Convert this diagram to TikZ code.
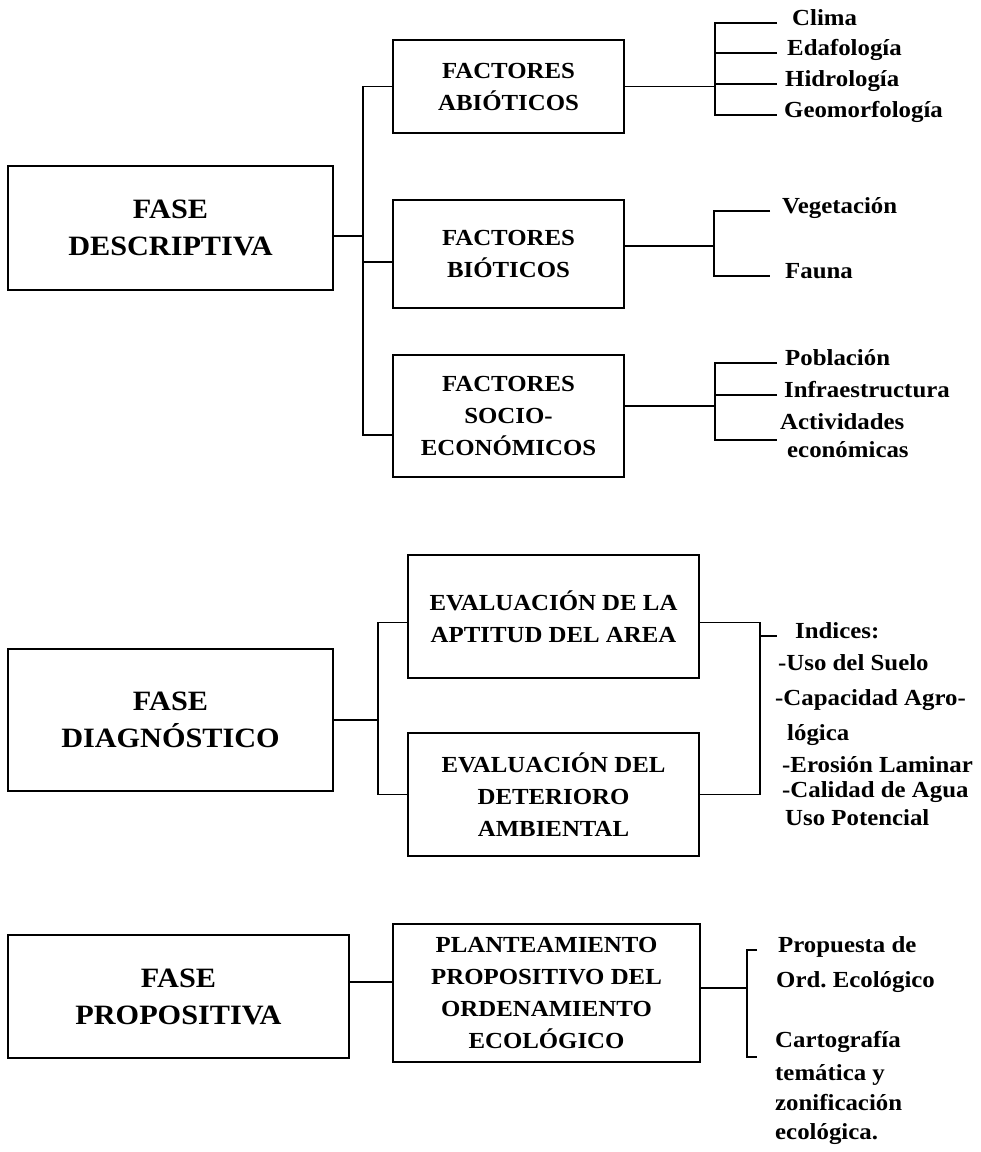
\documentclass[tikz,border=0pt]{standalone}
\usepackage{fontspec}
\setmainfont{Liberation Serif}[FakeStretch=1.08]
\usepackage{tikz}
\frenchspacing

\tikzset{
  fasebox/.style={draw,line width=1.7pt,align=center,minimum width=325pt,minimum height=124pt,font=\bfseries\fontsize{28}{37}\selectfont},
  factbox/.style={draw,line width=1.7pt,align=center,inner sep=0pt,font=\bfseries\fontsize{23}{32}\selectfont},
  item/.style={anchor=west,inner sep=0pt,text height=1.5ex,text depth=.25ex,font=\bfseries\fontsize{23}{30}\selectfont},
  link/.style={line width=1.5pt}
}

\begin{document}
\begin{tikzpicture}[x=1pt,y=-1pt]
    \useasboundingbox (0,0) rectangle (981,1152);
    % phases
    \node[fasebox] (desc) at (170.5,228) {FASE\\DESCRIPTIVA};
    \node[fasebox,minimum height=142pt] (diag) at (170.5,720) {FASE\\DIAGNÓSTICO};
    \node[fasebox,minimum width=341pt,minimum height=123pt] (prop) at (178.5,996.5) {FASE\\PROPOSITIVA};
    % second level boxes
    \node[factbox,minimum width=231pt,minimum height=93pt] (abio) at (508.5,86.5) {FACTORES\\ABIÓTICOS};
    \node[factbox,minimum width=231pt,minimum height=108pt] (bio) at (508.5,254) {FACTORES\\BIÓTICOS};
    \node[factbox,minimum width=231pt,minimum height=122pt] (socio) at (508.5,416) {FACTORES\\SOCIO-\\ECONÓMICOS};
    \node[factbox,minimum width=291pt,minimum height=123pt] (apt) at (553.5,616.5) {EVALUACIÓN DE LA\\APTITUD DEL AREA};
    \node[factbox,minimum width=291pt,minimum height=123pt] (det) at (553.5,794.5) {EVALUACIÓN DEL\\DETERIORO\\AMBIENTAL};
    \node[factbox,minimum width=307pt,minimum height=138pt] (plan) at (546.5,993) {PLANTEAMIENTO\\PROPOSITIVO DEL\\ORDENAMIENTO\\ECOLÓGICO};
    % lists
    \foreach \n/\x/\y/\t in {clima/792/23/Clima, edaf/787/53/Edafología, hidro/785/84/Hidrología, geom/784/115/Geomorfología,
        veg/782/211/Vegetación, fauna/785/276/Fauna,
        pobl/785/363/Población, infra/784/395/Infraestructura, activ/780/427/Actividades, econ/787/455/económicas,
        indi/795/636/Indices:, uso/778/668/-Uso del Suelo, capa/775/703/-Capacidad Agro-, logi/787/738/lógica,
        eros/782/770/-Erosión Laminar, cali/782/795/-Calidad de Agua, upot/785/823/Uso Potencial,
        propu/778/950/Propuesta de, orde/776/985/Ord. Ecológico,
        cart/775/1045/Cartografía, tema/775/1078/temática y, zoni/775/1108/zonificación, ecol/775/1137/ecológica.}
    \node[item] (\n) at (\x,\y) {\t};
    % bus points
    \coordinate (dbus) at (363,236);
    \coordinate (abus) at (715,86.5);
    \coordinate (aend) at (777,0);
    \coordinate (bbus) at (714,246);
    \coordinate (bend) at (770,0);
    \coordinate (sbus) at (715,406);
    \coordinate (actl) at (777,440);
    \coordinate (gbus) at (378,720);
    \coordinate (ibus) at (760,636);
    \coordinate (itick) at (777,636);
    \coordinate (pbus) at (747,988);
    \coordinate (pend) at (757,0);
    \coordinate (cartl) at (757,1057);
    % descriptive phase
    \draw[link] ([yshift=-8pt]desc.east) -- (dbus);
    \draw[link] (abio.west) -| (dbus) |- ([yshift=-19pt]socio.west);
    \draw[link] ([yshift=-8pt]bio.west) -| (dbus);
    \draw[link] (abio.east) -- (abus);
    \draw[link] (clima.west -| aend) -| (abus) |- (geom.west -| aend);
    \draw[link] (edaf.west -| aend) -- (edaf.west -| abus);
    \draw[link] (hidro.west -| aend) -- (hidro.west -| abus);
    \draw[link] ([yshift=8pt]bio.east) -- (bbus);
    \draw[link] (veg.west -| bend) -| (bbus) |- (fauna.west -| bend);
    \draw[link] ([yshift=10pt]socio.east) -- (sbus);
    \draw[link] (pobl.west -| aend) -| (sbus) |- (actl);
    \draw[link] (infra.west -| aend) -- (infra.west -| sbus);
    % diagnostic phase
    \draw[link] (diag.east) -- (gbus);
    \draw[link] ([yshift=-6pt]apt.west) -| (gbus) |- (det.west);
    \draw[link] ([yshift=-6pt]apt.east) -| (ibus) |- (det.east);
    \draw[link] (ibus) -- (itick);
    % propositive phase
    \draw[link] ([yshift=14.5pt]prop.east) -- ([yshift=11pt]plan.west);
    \draw[link] ([yshift=5pt]plan.east) -- (pbus);
    \draw[link] (propu.west -| pend) -| (pbus) |- (cartl);
\end{tikzpicture}
\end{document}
